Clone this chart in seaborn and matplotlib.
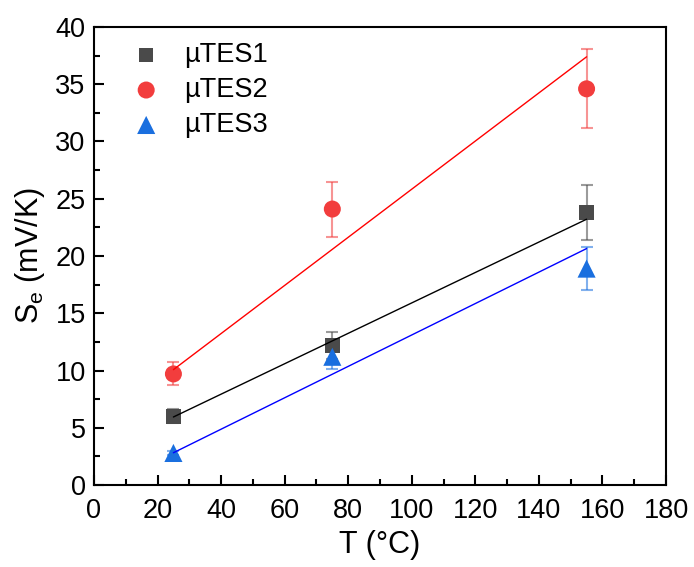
import numpy as np
import pandas as pd
import seaborn as sns
import matplotlib.pyplot as plt

# okunan degerler
temps = [25, 75, 155]
names = ["µTES1", "µTES2", "µTES3"]
se_1 = [6.0, 12.2, 23.8]
se_2 = [9.7, 24.1, 34.6]
se_3 = [2.8, 11.2, 18.9]
err_1 = [0.6, 1.2, 2.4]
err_2 = [1.0, 2.4, 3.45]
err_3 = [0.15, 1.1, 1.9]

sns.set_theme(style="ticks")
plt.rcParams['font.family'] = ['Liberation Sans', 'DejaVu Sans']
plt.rcParams['text.color'] = 'black'
plt.rcParams['axes.labelcolor'] = 'black'
plt.rcParams['xtick.color'] = 'black'
plt.rcParams['ytick.color'] = 'black'

df = pd.DataFrame({
    "T": temps * 3,
    "Se": se_1 + se_2 + se_3,
    "err": err_1 + err_2 + err_3,
    "sample": [n for n in names for _ in temps],
})

marker_cols = ["#4a4a4a", "#f23d3d", "#1a6fdf"]
line_cols = ["black", "red", "blue"]
markers = ["s", "o", "^"]
msizes = [110, 150, 170]

fig = plt.figure(figsize=(6.94, 5.67), dpi=100)
ax = fig.add_axes([0.1354, 0.1446, 0.8243, 0.8078])

for i, n in enumerate(names):
    d = df[df["sample"] == n]
    ax.errorbar(d["T"], d["Se"], yerr=d["err"], fmt="none", ecolor=marker_cols[i],
                alpha=0.55, elinewidth=1.5, capsize=4, capthick=1.5, zorder=1)
    sns.scatterplot(data=d, x="T", y="Se", marker=markers[i], s=msizes[i],
                    color=marker_cols[i], edgecolor="none", label=n, ax=ax, zorder=2)
    # agirlikli lineer fit
    k, b = np.polyfit(d["T"], d["Se"], 1, w=1 / d["err"])
    xs = np.array([d["T"].min(), d["T"].max()])
    sns.lineplot(x=xs, y=k * xs + b, color=line_cols[i], lw=1, ax=ax, zorder=3)

ax.set_xlim(0, 180)
ax.set_ylim(0, 40)
ax.set_xticks(np.arange(0, 181, 20))
ax.set_yticks(np.arange(0, 41, 5))
ax.set_xticks(np.arange(10, 180, 20), minor=True)
ax.set_yticks(np.arange(2.5, 40, 5), minor=True)
ax.tick_params(which="both", direction="in", top=False, right=False, labelsize=19.5,
               width=1.5, pad=6, colors="black")
ax.tick_params(axis="x", which="both", pad=9)
ax.tick_params(which="major", length=7)
ax.tick_params(which="minor", length=4)
for s in ax.spines.values():
    s.set_linewidth(1.5)
    s.set_color("black")

ax.set_xlabel("T (°C)", fontsize=22, labelpad=5)
ax.set_ylabel("S$_\\mathregular{e}$ (mV/K)", fontsize=22, labelpad=6)

h, l = ax.get_legend_handles_labels()
ax.legend(h, l, loc="upper left", bbox_to_anchor=(0.025, 1.02), frameon=False,
          fontsize=19.5, handletextpad=0.9, labelspacing=0.33, handlelength=1.0)

fig.savefig("out.png", dpi=100)
